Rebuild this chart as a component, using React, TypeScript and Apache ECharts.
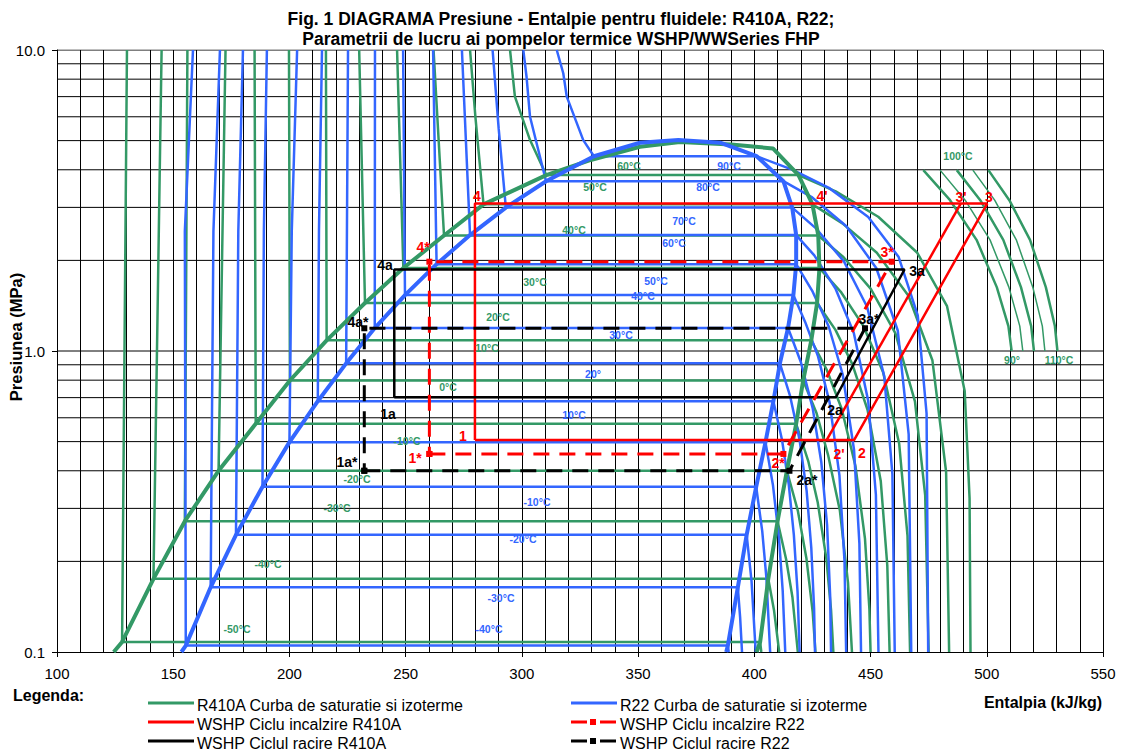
import React, { useEffect, useRef } from "react";
import * as echarts from "echarts";

const GREEN = "#339966";
const BLUE = "#3366FF";
const RED = "#FF0000";
const BLACK = "#000000";
const FONT = "'Liberation Sans', Arial, Helvetica, sans-serif";

// ---------- axes ----------
const gridPressures = [0.2, 0.3, 0.4, 0.5, 0.6, 0.7, 0.8, 0.9, 1, 2, 3, 4, 5, 6, 7, 8, 9, 10];

// ---------- R410A (green) ----------
const r410aSatLiquid = [[124.4, 0.1], [128, 0.108], [141.5, 0.175], [155, 0.272], [169.5, 0.4], [185.5, 0.573], [200.2, 0.798], [216, 1.085], [232.5, 1.444], [249, 1.886], [266.5, 2.42], [283.5, 3.07], [310.5, 3.84], [330, 4.32], [350.8, 4.77], [368, 4.95]];
const r410aSatVapor = [[368, 4.95], [390, 4.85], [408, 4.71], [419, 3.84], [425, 3.07], [427.5, 2.42], [428, 1.886], [427, 1.444], [424.5, 1.085], [421, 0.798], [418, 0.573], [414, 0.4], [410, 0.272], [406, 0.175], [402.5, 0.108], [401, 0.1]];
const r410aTemps = [-50, -40, -30, -20, -10, 0, 10, 20, 30, 40, 50, 60];
const r410aPsat = [0.108, 0.175, 0.272, 0.4, 0.573, 0.798, 1.085, 1.444, 1.886, 2.42, 3.07, 3.84];
const r410aHl = [128, 141.5, 155, 169.5, 185.5, 200.2, 216, 232.5, 249, 266.5, 283.5, 310.5];
const r410aHg = [402.5, 406, 410, 414, 418, 421, 424.5, 427, 428, 427.5, 425, 419];
const r410aLiquid = [
  [[130.1, 10]], [[145, 10]], [[156.1, 10]], [[172.5, 10]], [[185, 10]], [[199.8, 10]],
  [[215.7, 10]], [[230, 10]], [[246.3, 10]], [[262, 10]], [[277.7, 10], [280, 6]],
  [[294.9, 10], [297, 7], [303.5, 5.02]],
];
const r410aVapor = [
  [[403, 0.1]],
  [[408.5, 0.137], [410.7, 0.1]],
  [[413.7, 0.203], [416.4, 0.152], [418.7, 0.1]],
  [[418.7, 0.295], [422.4, 0.205], [425.1, 0.136], [426.3, 0.1]],
  [[423.2, 0.431], [427.3, 0.313], [431.0, 0.204], [433.0, 0.138], [434, 0.1]],
  [[426.7, 0.624], [431.8, 0.449], [436.8, 0.295], [440.3, 0.17], [442, 0.1]],
  [[431.1, 0.868], [437.6, 0.642], [443.5, 0.415], [447.6, 0.238], [449.5, 0.139], [450, 0.1]],
  [[434.9, 1.175], [442.1, 0.906], [448.7, 0.638], [454.4, 0.369], [457.2, 0.194], [458.2, 0.1]],
  [[437.4, 1.565], [447.0, 1.207], [455.4, 0.85], [462.3, 0.493], [465.9, 0.243], [467, 0.1]],
  [[438.4, 2.049], [450.1, 1.608], [460.7, 1.144], [469.1, 0.68], [473.5, 0.332], [475, 0.1]],
  [[437.9, 2.654], [452.7, 2.12], [466.3, 1.526], [476.6, 0.932], [482.5, 0.397], [483.8, 0.1]],
  [[435.0, 3.391], [453.3, 2.793], [470.1, 2.12], [482.9, 1.409], [490.5, 0.736], [492.6, 0.324], [493, 0.1]],
];
// superheated arcs 90..110 °C
const arcPressures = [3.99, 3.17, 2.34, 1.63, 1.21, 1.0];
const arc90 = [472.7, 484.2, 495.6, 504.3, 509.3, 510.7];
const arc95 = [479.9, 490.7, 501.4, 509.5, 514.2, 515.5];
const arc100 = [487.1, 497.2, 507.1, 514.7, 519.1, 520.3];
const arc105 = [494, 503.4, 512.7, 519.8, 523.9, 525];
const arc110 = [500.7, 509.7, 518.6, 525.4, 529.3, 530.4];

// ---------- R22 (blue) ----------
const r22SatLiquid = [[153.5, 0.1], [155.4, 0.105], [166.1, 0.164], [177, 0.245], [188.4, 0.354], [200, 0.498], [212.2, 0.681], [224.4, 0.91], [236.7, 1.192], [249.7, 1.534], [263.3, 1.943], [277.7, 2.427], [293.1, 2.995], [310.4, 3.665], [331, 4.437], [350.8, 4.92], [367.3, 5.02]];
const r22SatVapor = [[367.3, 5.02], [385.3, 4.92], [401, 4.437], [412.5, 3.665], [416.3, 2.995], [418, 2.427], [418, 1.943], [416.8, 1.534], [414.5, 1.192], [411, 0.91], [408.2, 0.681], [404.8, 0.498], [400.8, 0.354], [396.7, 0.245], [392.9, 0.164], [388.6, 0.105], [387.9, 0.1]];
const r22Temps = [-40, -30, -20, -10, 0, 10, 20, 30, 40, 50, 60, 70, 80, 90];
const r22Psat = [0.105, 0.164, 0.245, 0.354, 0.498, 0.681, 0.91, 1.192, 1.534, 1.943, 2.427, 2.995, 3.665, 4.437];
const r22Hl = [155.4, 166.1, 177, 188.4, 200, 212.2, 224.4, 236.7, 249.7, 263.3, 277.7, 293.1, 310.4, 331];
const r22Hg = [388.6, 392.9, 396.7, 400.8, 404.8, 408.2, 411, 414.5, 416.8, 418, 418, 416.3, 412.5, 401];
const r22Liquid = [
  [[158.5, 10], [155, 2.5]],
  [[170.1, 10], [167.3, 2.5]],
  [[180, 10], [178, 2.5]],
  [[190.3, 10], [189, 2.5]],
  [[203.3, 10], [201, 2.5]],
  [[214, 10], [212.7, 2.5]],
  [[225.2, 10]], [[236.8, 10]], [[248.9, 10]], [[261.8, 10]], [[274.2, 10]],
  [[287.4, 10], [290, 5.5]],
  [[300.6, 10], [302, 8.15], [303.5, 6.0]],
  [[315, 10], [317.8, 8.37], [319.3, 7.0], [326.4, 5.02]],
];
const r22Vapor = [
  [[389, 0.1]],
  [[393.9, 0.13], [394.7, 0.1]],
  [[398.8, 0.172], [400.6, 0.1]],
  [[403.4, 0.252], [405.2, 0.176], [406.8, 0.1]],
  [[408.0, 0.359], [410.6, 0.239], [412.2, 0.16], [413.3, 0.1]],
  [[411.9, 0.507], [414.8, 0.361], [417.0, 0.245], [418.6, 0.158], [419.5, 0.1]],
  [[415.4, 0.708], [419.5, 0.505], [422.5, 0.343], [424.5, 0.222], [425.7, 0.14], [426.1, 0.1]],
  [[420.0, 0.919], [425.1, 0.646], [428.8, 0.428], [431.3, 0.264], [432.6, 0.155], [433, 0.1]],
  [[421.9, 1.247], [427.4, 0.96], [432.4, 0.674], [436.6, 0.387], [438.8, 0.2], [439.5, 0.1]],
  [[425.1, 1.574], [432.0, 1.206], [438.0, 0.837], [442.9, 0.469], [445.2, 0.229], [445.9, 0.1]],
  [[425.8, 2.078], [434.9, 1.613], [442.8, 1.147], [449.0, 0.682], [452.3, 0.333], [453.4, 0.1]],
  [[426.4, 2.561], [438.6, 1.982], [448.5, 1.403], [455.9, 0.824], [459.4, 0.39], [460.4, 0.1]],
  [[424.9, 3.237], [439.6, 2.596], [452.5, 1.883], [461.7, 1.17], [466.4, 0.528], [467.5, 0.1]],
  [[416.3, 4.003], [432.1, 3.483], [449.0, 2.789], [462.1, 2.052], [470.3, 1.314], [474.1, 0.62], [474.8, 0.1]],
];

// ---------- WSHP cycles ----------
const heatR410A = [[279.8, 0.506], [442.9, 0.506], [500.2, 3.09], [279.8, 3.09], [279.8, 0.506]];
const heatR410Aprime = [[431.1, 0.506], [488.8, 3.09]];
const heatR22 = [[260.2, 0.455], [412.5, 0.455], [459.1, 1.98], [260.2, 1.98], [260.2, 0.455]];
const coolR410A = [[245.1, 0.702], [435.1, 0.702], [464.6, 1.865], [245.1, 1.865], [245.1, 0.702]];
const coolR22 = [[232.2, 0.4], [415.1, 0.4], [447.6, 1.19], [232.2, 1.19], [232.2, 0.4]];

// ---------- labels ----------
const greenLabels: [string, number, number][] = [["60°C", 629, 166], ["50°C", 595, 187], ["40°C", 574, 230], ["30°C", 535, 282], ["20°C", 498, 317], ["10°C", 487, 348], ["0°C", 448, 387], ["-10°C", 407, 441], ["-20°C", 357, 479], ["-30°C", 337, 508], ["-40°C", 268, 564], ["-50°C", 237, 629], ["100°C", 958, 156], ["90°", 1012, 360], ["110°C", 1059, 360]];
const blueLabels: [string, number, number][] = [["90°C", 729, 166], ["80°C", 708, 187], ["70°C", 684, 221], ["60°C", 674, 243], ["50°C", 656, 281], ["40°C", 643, 296], ["30°C", 621, 335], ["20°", 593, 374], ["10°C", 574, 415], ["-10°C", 537, 502], ["-20°C", 523, 539], ["-30°C", 501, 598], ["-40°C", 489, 629]];
const redLabels: [string, number, number][] = [["4", 477, 196], ["4*", 423, 247], ["1", 463, 436], ["1*", 415, 458], ["2", 862, 453], ["2'", 839, 454], ["2*", 778, 463], ["3", 989, 197], ["3'", 961, 197], ["3*", 887, 252], ["4'", 822, 196]];
const blackLabels: [string, number, number][] = [["4a", 385, 265], ["4a*", 358, 322], ["1a", 388, 414], ["1a*", 347, 462], ["2a", 835, 410], ["2a*", 807, 480], ["3a", 917, 271], ["3a*", 869, 319]];

const legendItems = [
  { text: "R410A Curba de saturatie si izoterme", color: GREEN, dashed: false, col: 0, row: 0 },
  { text: "WSHP Ciclu incalzire R410A", color: RED, dashed: false, col: 0, row: 1 },
  { text: "WSHP Ciclul racire R410A", color: BLACK, dashed: false, col: 0, row: 2 },
  { text: "R22 Curba de saturatie si izoterme", color: BLUE, dashed: false, col: 1, row: 0 },
  { text: "WSHP Ciclu incalzire R22", color: RED, dashed: true, col: 1, row: 1 },
  { text: "WSHP Ciclul racire R22", color: BLACK, dashed: true, col: 1, row: 2 },
];

function isotherm(liq: number[][], hl: number, hg: number, ps: number, vap: number[][]) {
  return [...liq, [hl, ps], [hg, ps], ...vap];
}

function lineSeries(data: number[][], color: string, width: number, z: number, extra: any = {}) {
  return {
    type: "line",
    data,
    showSymbol: false,
    symbol: "none",
    silent: true,
    z,
    lineStyle: { color, width, type: "solid" },
    ...extra,
  };
}

export default function App() {
  const ref = useRef<HTMLDivElement>(null);
  useEffect(() => {
    if (!ref.current) return;
    const chart = echarts.init(ref.current, null, { renderer: "svg" });
    const series: any[] = [];

    gridPressures.forEach((p) => {
      series.push(lineSeries([[100, p], [550, p]], "#000", 1, 1));
    });

    r410aTemps.forEach((_, i) => {
      series.push(lineSeries(isotherm(r410aLiquid[i], r410aHl[i], r410aHg[i], r410aPsat[i], r410aVapor[i]), GREEN, 2.5, 3));
    });
    [arc90, arc95, arc100, arc105, arc110].forEach((arc, k) => {
      series.push(lineSeries(arc.map((h, j) => [h, arcPressures[j]]), GREEN, k % 2 === 0 ? 2.5 : 1.5, 3));
    });
    r22Temps.forEach((_, i) => {
      series.push(lineSeries(isotherm(r22Liquid[i], r22Hl[i], r22Hg[i], r22Psat[i], r22Vapor[i]), BLUE, 2.5, 4));
    });
    series.push(lineSeries([...r410aSatLiquid, ...r410aSatVapor], GREEN, 4, 5));
    series.push(lineSeries([...r22SatLiquid, ...r22SatVapor], BLUE, 4, 6));

    series.push(lineSeries(heatR410A, RED, 2.5, 8));
    series.push(lineSeries(heatR410Aprime, RED, 2.5, 8));
    series.push(lineSeries(coolR410A, BLACK, 2.5, 8));
    const dashed = (data: number[][], color: string) => ({
      type: "line",
      data,
      showSymbol: true,
      symbol: "rect",
      symbolSize: 6,
      silent: true,
      z: 9,
      itemStyle: { color },
      lineStyle: { color, width: 3, type: [16, 10] },
    });
    series.push(dashed(heatR22, RED));
    series.push(dashed(coolR22, BLACK));

    const graphic: any[] = [];
    const txt = (text: string, x: number, y: number, font: string, fill: string, align = "center", rotation = 0) => ({
      type: "text",
      x,
      y,
      rotation,
      silent: true,
      z: 100,
      style: { text, font, fill, align, verticalAlign: "middle" },
    });
    graphic.push(txt("Fig. 1 DIAGRAMA Presiune - Entalpie pentru fluidele: R410A, R22;", 561, 19, `bold 17.5px ${FONT}`, "#000"));
    graphic.push(txt("Parametrii de lucru ai pompelor termice WSHP/WWSeries FHP", 561, 39, `bold 17.5px ${FONT}`, "#000"));
    graphic.push(txt("Presiunea (MPa)", 16, 337, `bold 16.5px ${FONT}`, "#000", "center", Math.PI / 2));
    graphic.push(txt("Entalpia (kJ/kg)", 1043, 702, `bold 16px ${FONT}`, "#000"));
    graphic.push(txt("Legenda:", 13, 695, `bold 16px ${FONT}`, "#000", "left"));
    greenLabels.forEach(([t, x, y]) => graphic.push(txt(t, x, y, `bold 10.5px ${FONT}`, GREEN)));
    blueLabels.forEach(([t, x, y]) => graphic.push(txt(t, x, y, `bold 10.5px ${FONT}`, BLUE)));
    redLabels.forEach(([t, x, y]) => graphic.push(txt(t, x, y, `bold 14px ${FONT}`, RED)));
    blackLabels.forEach(([t, x, y]) => graphic.push(txt(t, x, y, `bold 14px ${FONT}`, BLACK)));

    const rowY = [704, 723, 742];
    const colX = [148, 571];
    legendItems.forEach((it) => {
      const x0 = colX[it.col];
      const y = rowY[it.row];
      if (it.dashed) {
        graphic.push({ type: "line", silent: true, shape: { x1: x0, y1: y - 1, x2: x0 + 16, y2: y - 1 }, style: { stroke: it.color, lineWidth: 3 } });
        graphic.push({ type: "rect", silent: true, shape: { x: x0 + 19, y: y - 4, width: 6, height: 6 }, style: { fill: it.color } });
        graphic.push({ type: "line", silent: true, shape: { x1: x0 + 29, y1: y - 1, x2: x0 + 45, y2: y - 1 }, style: { stroke: it.color, lineWidth: 3 } });
      } else {
        graphic.push({ type: "line", silent: true, shape: { x1: x0, y1: y - 1, x2: x0 + 46, y2: y - 1 }, style: { stroke: it.color, lineWidth: 3 } });
      }
      graphic.push(txt(it.text, x0 + 49, y + 1, `16px ${FONT}`, "#000", "left"));
    });

    chart.setOption({
      animation: false,
      backgroundColor: "#fff",
      grid: { left: 57, right: 20, top: 50, bottom: 99, containLabel: false },
      xAxis: {
        type: "value",
        min: 100,
        max: 550,
        interval: 50,
        axisLine: { show: true, lineStyle: { color: "#000", width: 1 } },
        axisTick: { show: true, length: 5, lineStyle: { color: "#000" } },
        axisLabel: { color: "#000", fontSize: 15, fontFamily: FONT, margin: 14 },
        splitLine: { show: true, lineStyle: { color: "#000", width: 1 } },
        minorTick: { show: false, splitNumber: 5 },
        minorSplitLine: { show: true, lineStyle: { color: "#000", width: 1 } },
      },
      yAxis: {
        type: "log",
        logBase: 10,
        min: 0.1,
        max: 10,
        axisLine: { show: true, lineStyle: { color: "#000", width: 1 } },
        axisTick: { show: true, length: 5, lineStyle: { color: "#000" } },
        axisLabel: { color: "#000", fontSize: 15, fontFamily: FONT, margin: 12, formatter: (v: number) => Number(v).toFixed(1) },
        splitLine: { show: false },
      },
      series,
      graphic,
    });
    return () => chart.dispose();
  }, []);
  return <div ref={ref} style={{ position: "fixed", left: 0, top: 0, width: 1123, height: 751, background: "#fff" }} />;
}
